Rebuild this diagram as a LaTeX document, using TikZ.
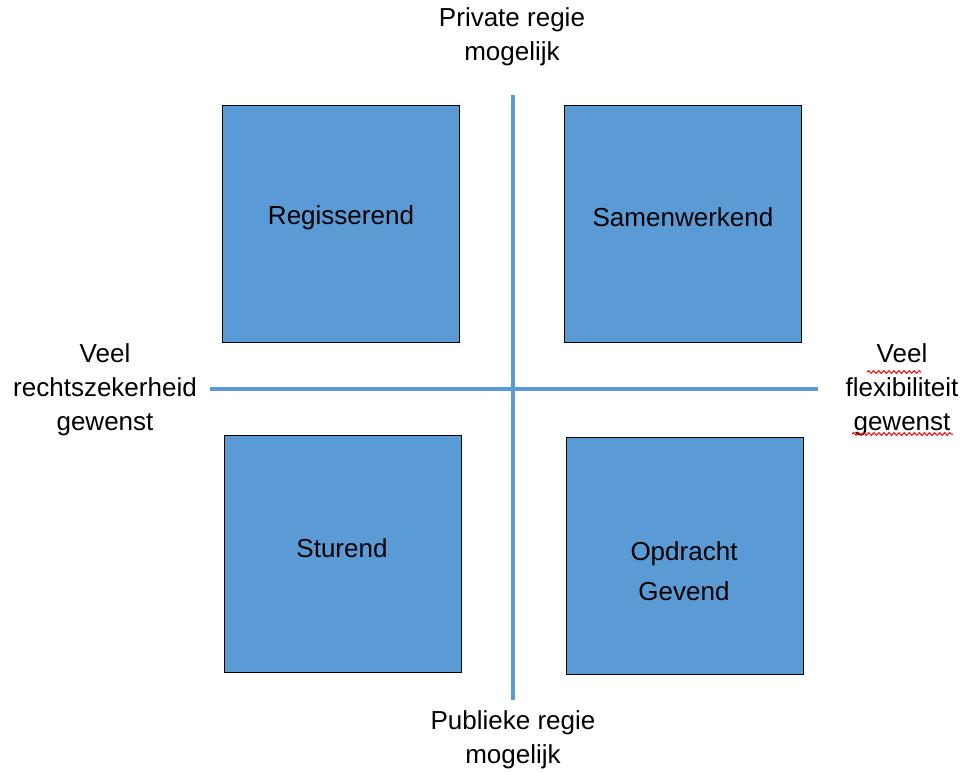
\documentclass[tikz,border=0pt]{standalone}
\usepackage{fontspec}
\setmainfont{Liberation Sans}
\usetikzlibrary{decorations.pathmorphing}
\definecolor{quadblue}{HTML}{5B9BD5}
\tikzset{
	quad/.style={draw=black, line width=0.7pt, fill=quadblue, minimum width=5.9cm, minimum height=5.9cm, inner sep=0pt},
	lbl/.style={align=center, inner sep=0pt, font=\fontsize{18.5}{24}\selectfont},
	axis/.style={draw=quadblue, line width=2.6pt},
	squig/.style={draw=red, line width=0.7pt, decorate, decoration={snake, amplitude=1pt, segment length=3.6pt}}
}
\newcommand{\Quadrant}[3]{\node[quad] (#1) at (#2) {};}
\newcommand{\QuadText}[3][]{\node[lbl, #1] (#2) at (#3)}

\begin{document}
\begin{tikzpicture}[x=0.025cm, y=-0.025cm]
\useasboundingbox (0,0) rectangle (965,771);

	\Quadrant{reg}{341,224}{}
	\Quadrant{sam}{683,224}{}
	\Quadrant{stu}{343,554}{}
	\Quadrant{opd}{685,556}{}

	\QuadText{regT}{341,218} {Regisserend};
	\QuadText{samT}{683,217} {Samenwerkend};
	\QuadText{stuT}{342,548} {Sturend};
	\QuadText[font=\fontsize{18.5}{28.5}\selectfont]{opdT}{684,571} {Opdracht\\Gevend};

	\coordinate (N) at (513,95);
	\coordinate (S) at (513,700);
	\coordinate (W) at (210,389);
	\coordinate (E) at (818,389);
	\draw[axis] (N) -- (S);
	\draw[axis] (W) -- (E);

	\QuadText{priv}{512,37} {Private regie\\mogelijk};
	\QuadText{publ}{513,740} {Publieke regie\\mogelijk};
	\QuadText{recht}{105,390} {Veel\\rechtszekerheid\\gewenst};
	\QuadText{flex}{902,390} {Veel\\flexibiliteit\\gewenst};

	% spelling marks under the right label
	\coordinate (sq1a) at (867,372);
	\coordinate (sq1b) at (921,372);
	\coordinate (sq2a) at (852,434);
	\coordinate (sq2b) at (953,434);
	\draw[squig] (sq1a) -- (sq1b);
	\draw[squig] (sq2a) -- (sq2b);

\end{tikzpicture}
\end{document}
